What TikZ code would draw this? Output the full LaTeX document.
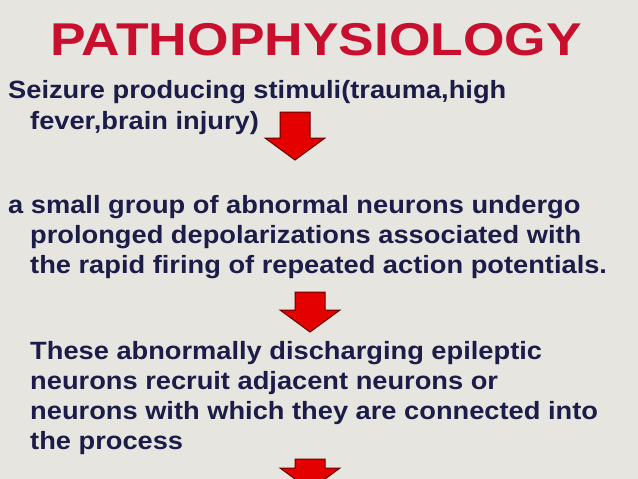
\documentclass[tikz,border=0pt]{standalone}
\usepackage{fontspec}
\setmainfont{Liberation Sans}
\definecolor{bg}{HTML}{E6E5E0}
\definecolor{txt}{HTML}{1C1C48}
\definecolor{ttl}{HTML}{C8102E}
\tikzset{
  line/.style={anchor=base west,inner sep=0pt,text=txt,xscale=1.09,font=\fontsize{25}{30}\selectfont\bfseries},
  downarrow/.style={draw=red!40!black,fill=red!90!black,line width=1pt,line join=miter},
}
\newcommand\dnarrow[3]{% center x, top y, bottom y
  \draw[downarrow] (#1-15,#2) -- (#1+15,#2) -- (#1+15,#3-22) -- (#1+30,#3-22) -- (#1,#3) -- (#1-30,#3-22) -- (#1-15,#3-22) -- cycle;}
\begin{document}
\begin{tikzpicture}[x=1pt,y=-1pt]
\fill[bg] (0,0) rectangle (638,479);
\useasboundingbox (0,0) rectangle (638,479);
\node[anchor=base,inner sep=0pt,text=ttl,xscale=1.16,font=\fontsize{46}{50}\selectfont\bfseries] (title) at (316,56) {PATHOPHYSIOLOGY};
\node[line] (l1) at (8,98) {Seizure producing stimuli(trauma,high};
\node[line] (l2) at (30,129) {fever,brain injury)};
\node[line] (l3) at (8,213) {a small group of abnormal neurons undergo};
\node[line] (l4) at (30,243) {prolonged depolarizations associated with};
\node[line] (l5) at (30,273) {the rapid firing of repeated action potentials.};
\node[line] (l6) at (30,359) {These abnormally discharging epileptic};
\node[line] (l7) at (30,389) {neurons recruit adjacent neurons or};
\node[line] (l8) at (30,419) {neurons with which they are connected into};
\node[line] (l9) at (30,449) {the process};
\dnarrow{295}{112}{160}
\dnarrow{310}{292}{332}
\dnarrow{310}{459}{490}
\end{tikzpicture}
\end{document}
